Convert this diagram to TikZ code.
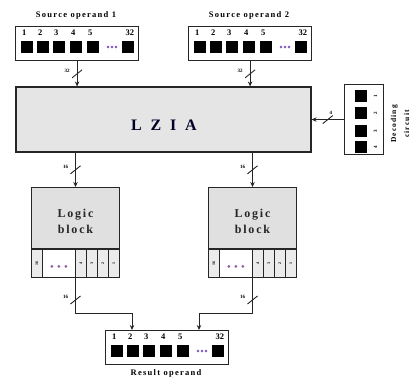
\documentclass[tikz,border=0pt]{standalone}
\usepackage{fontspec}
\setmainfont{Liberation Serif}
\newfontfamily\spacedfont[LetterSpace=15]{Liberation Serif}
\newfontfamily\widefont[LetterSpace=30]{Liberation Serif}
\usetikzlibrary{arrows.meta,calc}

\tikzset{
  regframe/.style={draw=black!85,line width=1.2pt,fill=white,minimum width=123pt,minimum height=34pt,inner sep=0pt},
  sq/.style={fill=black,minimum size=12pt,inner sep=0pt},
  num/.style={font=\fontsize{8.5}{8.5}\selectfont\bfseries,inner sep=0pt},
  dotn/.style={circle,fill=orange!80!red,draw=blue!70,line width=0.3pt,minimum size=2.4pt,inner sep=0pt},
  wire/.style={draw=black!85,line width=0.9pt},
  arr/.style={wire,-{Stealth[length=5pt,width=4.5pt]}},
  buslab/.style={font=\fontsize{5}{5}\selectfont\bfseries,inner sep=0pt},
  title/.style={font=\spacedfont\fontsize{8.5}{9}\selectfont\bfseries,inner sep=0pt},
  lziabox/.style={draw=black!85,line width=1.1pt,fill=black!10,minimum width=295pt,minimum height=65pt,inner sep=0pt},
  lbbox/.style={draw=black!85,line width=1pt,fill=black!12,minimum width=88pt,minimum height=61pt,inner sep=0pt},
  lbtext/.style={font=\spacedfont\fontsize{12}{16}\selectfont\bfseries,align=center,inner sep=0pt,text=black!85},
  cellrow/.style={draw=black!85,line width=1pt,fill=white,minimum width=88pt,minimum height=28pt,inner sep=0pt},
  cell/.style={draw=black!85,line width=0.8pt,fill=black!8,minimum height=28pt,inner sep=0pt,font=\fontsize{4}{4}\selectfont\bfseries},
  decbox/.style={draw=black!85,line width=1.1pt,fill=white,minimum width=39pt,minimum height=70pt,inner sep=0pt},
}

\newcommand\regbox[3]{%
  \node[regframe,anchor=north west] (#1) at (#2,#3) {};
  \foreach \i/\dx/\lab in {1/6/1,2/22/2,3/38/3,4/55/4,5/72/5}{%
    \node[sq,anchor=north west] (#1-s\i) at ($(#1.north west)+(\dx,15)$) {};
    \node[num,anchor=south west] (#1-n\i) at ($(#1-s\i.north west)+(1,-5)$) {\lab};
  }
  \node[sq,anchor=north west] (#1-s6) at ($(#1.north west)+(107,15)$) {};
  \node[num,anchor=south east] (#1-n6) at ($(#1-s6.north east)+(0,-5)$) {32};
  \foreach \k/\dx in {1/93,2/97,3/101}{%
    \node[dotn] (#1-d\k) at ($(#1.north west)+(\dx,21)$) {};
  }
}

\newcommand\logicblock[3]{%
  \node[lbbox,anchor=north west] (#1) at (#2,#3) {};
  \node[lbtext] (#1-t) at ($(#1.center)+(0,3.5)$) {Logic\\block};
  \node[cellrow,anchor=north west] (#1-c) at (#1.south west) {};
  \node[cell,anchor=north west,minimum width=11pt] (#1-c0) at ($(#1.south west)+(0,0)$) {\rotatebox{90}{16}};
  \node[cell,anchor=north west,minimum width=33pt,fill=white] (#1-cd) at ($(#1.south west)+(11,0)$) {};
  \foreach \k/\dx in {1/-7,2/0,3/7}{%
    \node[dotn] (#1-d\k) at ($(#1-cd.center)+(\dx,3)$) {};
  }
  \foreach \a/\lab in {44/4,55/3,66/2,77/1}{%
    \node[cell,anchor=north west,minimum width=11pt] (#1-c\lab) at ($(#1.south west)+(\a,0)$) {\rotatebox{90}{\lab}};
  }
}

\newcommand\busmark[4]{% coordinate name, label, label offset x, label offset y
  \draw[wire] ($(#1)+(-5,4)$) -- ($(#1)+(5,-4)$);
  \node[buslab] (#1-lab) at ($(#1)+(#3,#4)$) {#2};
}

\begin{document}
\begin{tikzpicture}[x=1pt,y=-1pt]
\useasboundingbox (0,0) rectangle (411,377);

% source operands
\node[title] (t1) at (76,15) {Source operand 1};
\node[title] (t2) at (249,15) {Source operand 2};
\regbox{src1}{15}{26}
\regbox{src2}{188}{26}

% LZIA
\node[lziabox] (lzia) at (163.5,119.5) {};
\node[font=\widefont\fontsize{16}{16}\selectfont\bfseries,text=black!85!blue,inner sep=0pt] (lziat) at (164,125) {L Z I A};

% decoding circuit
\node[decbox,anchor=north west] (dec) at (344,84) {};
\foreach \i/\y in {1/90,2/107,3/125,4/141}{%
  \node[sq,anchor=north west] (dec-s\i) at (355,\y) {};
  \node[font=\fontsize{5}{5}\selectfont\bfseries,rotate=90,inner sep=0pt] (dec-n\i) at ($(dec-s\i.east)+(8,0)$) {\i};
}
\node[font=\spacedfont\fontsize{7.5}{13}\selectfont\bfseries,rotate=90,align=center,inner sep=0pt] (dect) at (400,124) {Decoding\\circuit};

% logic blocks
\logicblock{lb1}{31}{187}
\logicblock{lb2}{208}{187}

% result
\regbox{res}{105}{330}
\node[title] (t3) at (166,373) {Result operand};

% connectors
\draw[arr] (src1.south) -- (src1.south |- lzia.north);
\coordinate (b1) at ($(src1.south)!0.5!(src1.south |- lzia.north)$);
\busmark{b1}{32}{-10}{-3}
\draw[arr] (src2.south) -- (src2.south |- lzia.north);
\coordinate (b2) at ($(src2.south)!0.5!(src2.south |- lzia.north)$);
\busmark{b2}{32}{-10}{-3}

\draw[arr] (dec.west) -- (dec.west -| lzia.east);
\coordinate (b3) at ($(dec.west)!0.5!(dec.west -| lzia.east)$);
\busmark{b3}{4}{3}{-7}

\draw[arr] (lb1.north |- lzia.south) -- (lb1.north);
\coordinate (b4) at ($(lb1.north |- lzia.south)!0.5!(lb1.north)$);
\busmark{b4}{16}{-10}{-3}
\draw[arr] (lb2.north |- lzia.south) -- (lb2.north);
\coordinate (b5) at ($(lb2.north |- lzia.south)!0.5!(lb2.north)$);
\busmark{b5}{16}{-10}{-3}

\coordinate (r1) at ($(res.north west)+(27,0)$);
\coordinate (r2) at ($(res.north west)+(94,0)$);
\draw[arr] (lb1-c.south) |- ($(r1)+(0,-17)$) -- (r1);
\coordinate (b6) at ($(lb1-c.south)+(0,22)$);
\busmark{b6}{16}{-10}{-3}
\draw[arr] (lb2-c.south) |- ($(r2)+(0,-17)$) -- (r2);
\coordinate (b7) at ($(lb2-c.south)+(0,22)$);
\busmark{b7}{16}{-10}{-3}
\end{tikzpicture}
\end{document}
